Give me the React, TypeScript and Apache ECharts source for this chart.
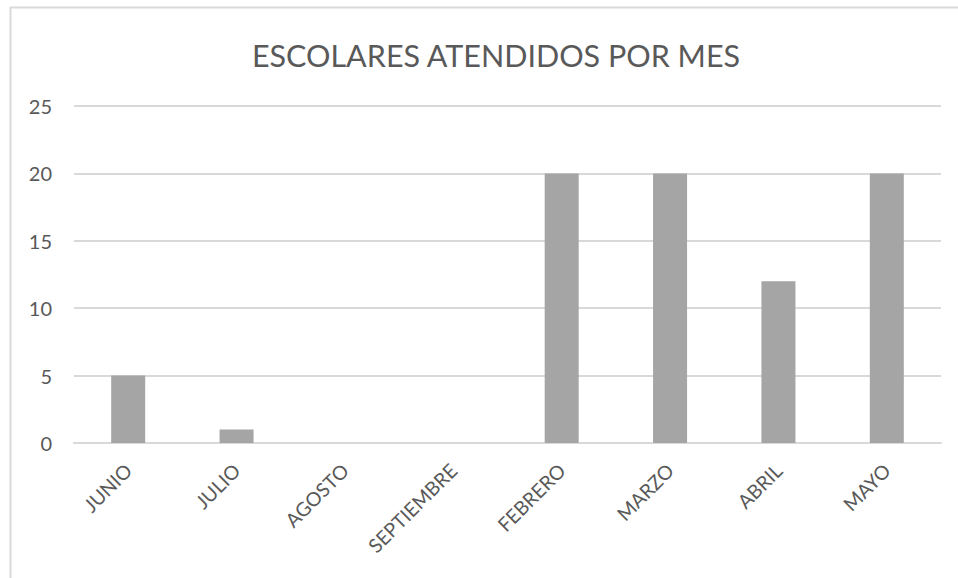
import React, { useEffect, useRef } from "react";
import * as echarts from "echarts";

const categories = ["JUNIO", "JULIO", "AGOSTO", "SEPTIEMBRE", "FEBRERO", "MARZO", "ABRIL", "MAYO"];
const values = [5, 1, 0, 0, 20, 20, 12, 20];
const titleText = "ESCOLARES ATENDIDOS POR MES";

export default function App() {
  const ref = useRef<HTMLDivElement>(null);
  useEffect(() => {
    if (!ref.current) return;
    const chart = echarts.init(ref.current, null, { renderer: "svg" });
    const font = "Lato, 'Open Sans', sans-serif";
    chart.setOption({
      animation: false,
      backgroundColor: "#ffffff",
      title: {
        text: titleText,
        left: 491,
        top: 34,
        textAlign: "center",
        textStyle: { fontFamily: font, fontSize: 30.5, fontWeight: "normal", color: "#595959" },
      },
      graphic: [
        {
          type: "rect",
          shape: { x: 10.5, y: 7.5, width: 1200, height: 1200 },
          style: { fill: "none", stroke: "#d9d9d9", lineWidth: 2 },
          silent: true,
        },
      ],
      grid: { left: 74, right: 17, top: 106, bottom: 135, containLabel: false },
      xAxis: {
        type: "category",
        data: categories,
        axisLine: { lineStyle: { color: "#d9d9d9", width: 2 } },
        axisTick: { show: false },
        axisLabel: {
          rotate: 45,
          interval: 0,
          margin: 24,
          fontFamily: font,
          fontSize: 19.5,
          color: "#595959",
        },
      },
      yAxis: {
        type: "value",
        min: 0,
        max: 25,
        interval: 5,
        axisLine: { show: false },
        axisTick: { show: false },
        splitLine: { lineStyle: { color: "#d9d9d9", width: 2 } },
        axisLabel: { fontFamily: font, fontSize: 20, color: "#595959", margin: 22 },
      },
      series: [
        {
          type: "bar",
          data: values,
          barWidth: 34,
          itemStyle: { color: "#a5a5a5" },
        },
      ],
    });
    return () => chart.dispose();
  }, []);
  return (
    <div
      ref={ref}
      style={{ position: "fixed", left: 0, top: 0, width: 958, height: 578, background: "#fff" }}
    />
  );
}
